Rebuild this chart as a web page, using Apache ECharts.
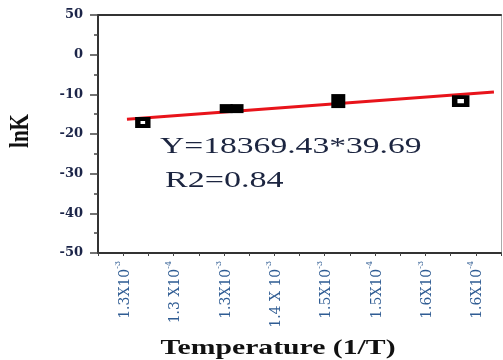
<!DOCTYPE html>
<html>
<head>
<meta charset="utf-8">
<script src="https://cdn.jsdelivr.net/npm/echarts@6/dist/echarts.min.js"></script>
<style>
  html, body { margin: 0; padding: 0; background: #fff; }
  #chart { width: 503px; height: 360px; }
</style>
</head>
<body>
<div id="chart"></div>
<script>
// Measured points (x in tick units along the 1/T axis, y = lnK)
const pointX = [1.78, 5.09, 5.52, 9.54, 14.4];
const pointY = [-17.1, -13.6, -13.6, -11.7, -11.7];

// Fitted line end points
const fitX = [1.15, 15.72];
const fitY = [-16.3, -9.4];

// Tick labels on the 1/T axis (shown at odd tick positions)
const xTickBase = ['1.3X10', '1.3 X10', '1.3X10', '1.4 X 10', '1.5X10', '1.5X10', '1.6X10', '1.6X10'];
const xTickExp  = ['-3', '-4', '-3', '-3', '-3', '-4', '-3', '-4'];

// Tick labels on the lnK axis, from -50 upward
const yTickLabels = ['-50', '-40', '-30', '-20', '-10', '0', '50'];

const equationText = 'Y=18369.43*39.69';
const r2Text = 'R2=0.84';

// marker looks: hollow squares for the first and last point
const markerStyle = [
  { size: [10, 7], hollow: true },
  { size: [13, 9], hollow: false },
  { size: [13, 9], hollow: false },
  { size: [14, 14], hollow: false },
  { size: [12, 8], hollow: true }
];

const points = pointX.map((x, i) => ({
  value: [x, pointY[i]],
  symbolSize: markerStyle[i].size,
  itemStyle: markerStyle[i].hollow
    ? { color: '#ffffff', borderColor: '#000', borderWidth: 4.5, opacity: 1 }
    : { color: '#000', borderWidth: 0, opacity: 1 }
}));

const chart = echarts.init(document.getElementById('chart'), null, { renderer: 'canvas' });

const serif = '"Liberation Serif", "Times New Roman", serif';

chart.setOption({
  backgroundColor: '#ffffff',
  animation: false,
  grid: { left: 98, right: 2, top: 15, bottom: 107 },
  xAxis: [{
    type: 'value',
    min: 0, max: 16, interval: 1,
    axisLine: { show: true, onZero: false, lineStyle: { color: '#333', width: 2 } },
    axisTick: { show: true, length: 3, lineStyle: { color: '#444', width: 1 } },
    splitLine: { show: false },
    axisLabel: {
      rotate: 90,
      margin: 8,
      color: '#2f5c93',
      fontFamily: '"DejaVu Serif", serif',
      fontSize: 14,
      formatter: function (v) {
        if (v % 2 !== 1) return '';
        const i = (v - 1) / 2;
        return '{b|' + xTickBase[i] + '}{s|' + xTickExp[i] + '}';
      },
      rich: {
        b: { fontSize: 14, fontFamily: '"DejaVu Serif", serif', color: '#2f5c93', lineHeight: 18, verticalAlign: 'bottom' },
        s: { fontSize: 8, fontFamily: '"DejaVu Serif", serif', color: '#2f5c93', lineHeight: 18, verticalAlign: 'top' }
      }
    }
  }, {
    type: 'value', position: 'top', min: 0, max: 16,
    axisLine: { show: true, onZero: false, lineStyle: { color: '#333', width: 2 } },
    axisTick: { show: false }, axisLabel: { show: false }, splitLine: { show: false }
  }],
  yAxis: [{
    type: 'value',
    min: -50, max: 10, interval: 10,
    axisLine: { show: true, onZero: false, lineStyle: { color: '#333', width: 2 } },
    axisTick: { show: true, inside: false, length: 8, lineStyle: { color: '#444', width: 1.5 } },
    minorTick: { show: true, splitNumber: 2, length: 4, lineStyle: { color: '#444', width: 1.5 } },
    splitLine: { show: false },
    axisLabel: {
      margin: 15,
      color: '#1b2448',
      fontWeight: 'bold',
      fontFamily: '"DejaVu Serif", serif',
      fontSize: 13,
      formatter: function (v) {
        return yTickLabels[Math.round((v + 50) / 10)];
      }
    }
  }, {
    type: 'value', position: 'right', min: -50, max: 10,
    axisLine: { show: true, onZero: false, lineStyle: { color: '#aaa', width: 1 } },
    axisTick: { show: false }, axisLabel: { show: false }, splitLine: { show: false }
  }],
  series: [{
    type: 'line',
    data: fitX.map((x, i) => [x, fitY[i]]),
    showSymbol: false,
    lineStyle: { color: '#e8141b', width: 3 },
    z: 2
  }, {
    type: 'scatter',
    symbol: 'rect',
    data: points,
    itemStyle: { opacity: 1 },
    z: 3
  }],
  graphic: [{
    type: 'text',
    x: 160, y: 147,
    scaleX: 1.4,
    style: { text: equationText, font: '24px ' + serif, fill: '#1c2540', textVerticalAlign: 'middle' }
  }, {
    type: 'text',
    x: 165, y: 181,
    scaleX: 1.42,
    style: { text: r2Text, font: '24px ' + serif, fill: '#1c2540', textVerticalAlign: 'middle' }
  }, {
    type: 'text',
    x: 278, y: 348,
    scaleX: 1.35,
    style: { text: 'Temperature (1/T)', font: 'bold 22px ' + serif, fill: '#111', textAlign: 'center', textVerticalAlign: 'middle' }
  }, {
    type: 'text',
    x: 21, y: 131,
    rotation: Math.PI / 2,
    scaleY: 1.35,
    style: { text: 'lnK', font: 'bold 21px ' + serif, fill: '#111', textAlign: 'center', textVerticalAlign: 'middle' }
  }]
});
</script>
</body>
</html>
